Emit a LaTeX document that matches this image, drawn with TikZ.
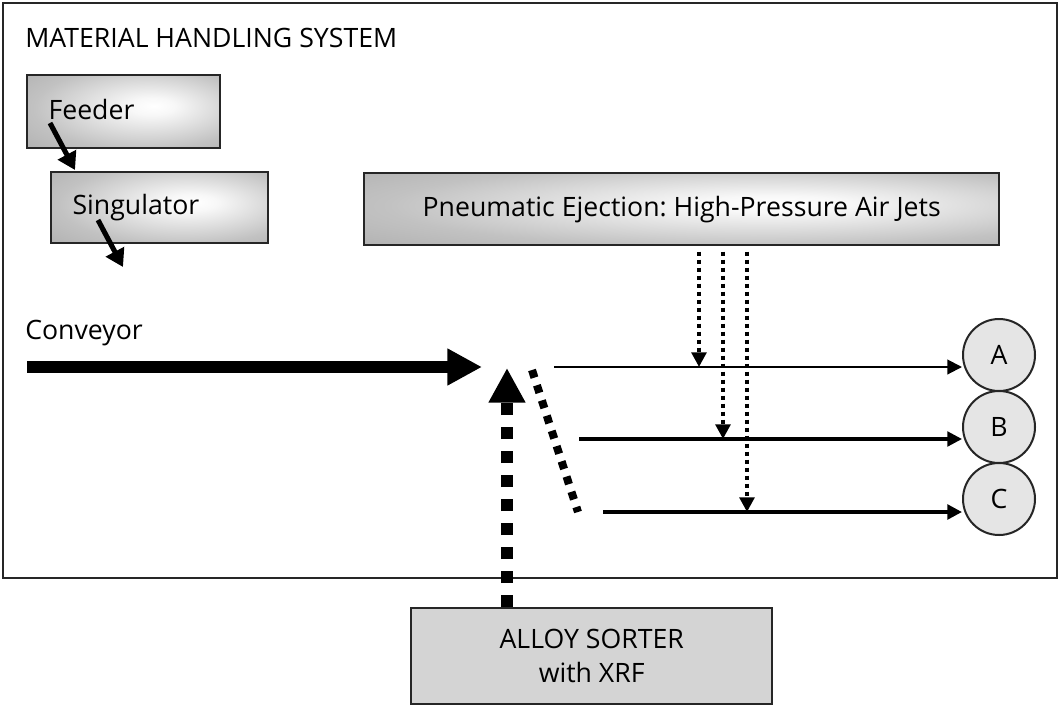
\documentclass[tikz,border=0pt]{standalone}
\usepackage{fontspec}
\setmainfont{Open Sans}
\usetikzlibrary{arrows.meta}
\frenchspacing

% soft glow used for the grey unit boxes
\pgfdeclareradialshading{boxglow}{\pgfpoint{8bp}{4bp}}{color(0bp)=(white); color(6bp)=(black!3); color(28bp)=(black!24); color(50bp)=(black!36); color(70bp)=(black!40)}

\begin{document}
\begin{tikzpicture}[x=0.75pt, y=-0.75pt,
	every node/.style={font=\fontsize{20}{25.5}\selectfont, text=black},
	unitbox/.style={draw=black!85, line width=1.8pt, shade, shading=boxglow, anchor=north west, inner xsep=16pt, align=left, minimum height=54pt},
	bin/.style={circle, draw=black!85, line width=1.5pt, fill=black!10, minimum size=54pt, inner sep=0pt},
	feed/.style={line width=3.8pt, -{Triangle[length=13pt, width=15pt]}},
	track/.style={-{Triangle[length=11pt, width=11pt]}},
	jet/.style={line width=3pt, dash pattern=on 3pt off 3pt, -{Triangle[length=11pt, width=11pt]}}
	]
	
	\useasboundingbox (0,0) rectangle (1060,704);
	
	% Frame of the handling system
	\draw[line width=1.5pt, black!85] (3,3) rectangle (1057,578);
	\node[anchor=base west, inner sep=0pt] (title) at (25,47) {MATERIAL HANDLING SYSTEM};
	
	% Feeder and singulator
	\node[unitbox, text width=112.75pt, minimum height=54.75pt] (feeder) at (26,74) {\raisebox{3pt}{Feeder}};
	\node[unitbox, text width=130.75pt, minimum height=53.25pt] (sing) at (50,171) {\raisebox{1.5pt}{Singulator}};
	\coordinate (fd0) at (50,123);
	\coordinate (fd1) at (75,170);
	\coordinate (sg0) at (98,220);
	\coordinate (sg1) at (123,267);
	\draw[feed] (fd0) -- (fd1);
	\draw[feed] (sg0) -- (sg1);
	
	% Air jets box
	\node[unitbox, align=center, minimum width=476.25pt, minimum height=54pt, inner xsep=0pt] (air) at (363,172) {Pneumatic Ejection: High-Pressure Air Jets};
	
	% Conveyor
	\node[anchor=base west, inner sep=0pt] (conv) at (25,339) {Conveyor};
	\coordinate (belt0) at (27,367);
	\coordinate (belt1) at (482,367);
	\draw[line width=9pt, -{Triangle[length=26pt, width=26pt]}] (belt0) -- (belt1);
	
	% Sorter and its reading
	\node[draw=black!85, line width=1.8pt, fill=black!17, anchor=north west, align=center, minimum width=270.75pt, minimum height=72pt] (sorter) at (410,607) {ALLOY SORTER\\with XRF};
	\coordinate (det) at (507,368);
	\draw[line width=9pt, dash pattern=on 9pt off 9pt, -{Triangle[length=26pt, width=26pt]}] (sorter.north -| det) -- (det);
	
	% Gate
	\coordinate (gate0) at (532,370);
	\coordinate (gate1) at (578,512);
	\draw[line width=6pt, dash pattern=on 6pt off 6pt] (gate0) -- (gate1);
	
	% Bins
	\node[bin] (A) at (999,355) {A};
	\node[bin] (B) at (999,427) {B};
	\node[bin] (C) at (999,499) {C};
	
	% Tracks to the bins
	\coordinate (gA) at (554,367);
	\coordinate (gB) at (579,439);
	\coordinate (gC) at (603,512);
	\draw[track, line width=1.5pt] (gA) -- (gA -| A.west);
	\draw[track, line width=2.3pt] (gB) -- (gB -| B.west);
	\draw[track, line width=2.6pt] (gC) -- (gC -| C.west);
	
	% Jets down onto the tracks
	\coordinate (jA) at (699,367);
	\coordinate (jB) at (723,439);
	\coordinate (jC) at (747,512);
	\foreach \j in {jA,jB,jC}
	\draw[jet] ([yshift=-4pt]air.south -| \j) -- (\j);
	
\end{tikzpicture}
\end{document}
